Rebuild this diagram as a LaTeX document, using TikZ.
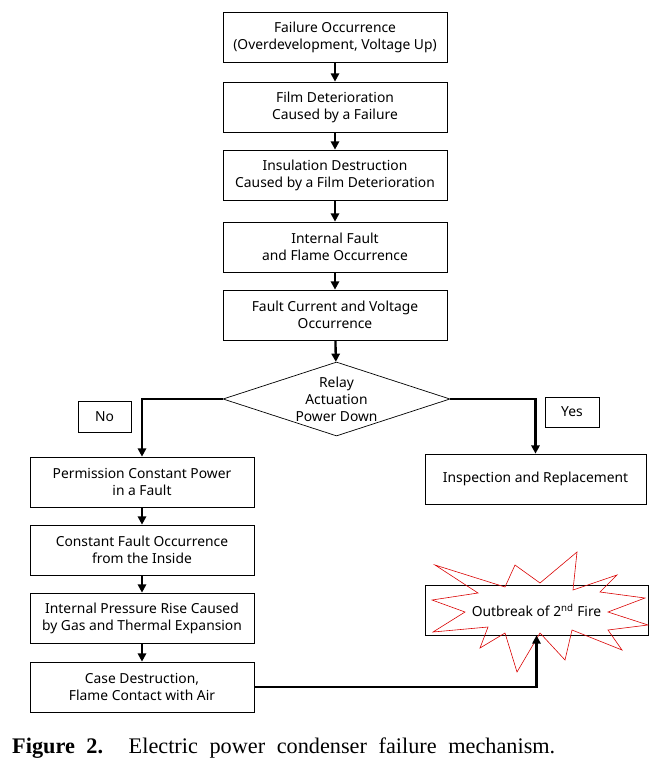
\documentclass[tikz,border=0pt]{standalone}
\usepackage{fontspec}
\setmainfont{Noto Sans}
\newfontfamily\capfont{Liberation Serif}
\usetikzlibrary{shapes.geometric,arrows.meta}
\begin{document}
\begin{tikzpicture}[x=0.03cm,y=-0.03cm,
  box/.style={draw,line width=0.6pt,minimum width=6.72cm,minimum height=1.5cm,align=center,inner sep=2pt,font=\fontsize{11.8}{14.5}\selectfont},
  tag/.style={draw,line width=0.6pt,align=center,inner sep=0pt,font=\fontsize{11.8}{14.5}\selectfont},
  arr/.style={line width=2pt,-{Triangle[length=7pt,width=7pt]}},
  lnk/.style={line width=2pt}]
\useasboundingbox (0,0) rectangle (669,765);
% main column
\node[box] (b1) at (335,37) {Failure Occurrence\\(Overdevelopment, Voltage Up)};
\node[box] (b2) at (335,107) {Film Deterioration\\Caused by a Failure};
\node[box] (b3) at (335,175) {Insulation Destruction\\Caused by a Film Deterioration};
\node[box] (b4) at (335,247) {Internal Fault\\and Flame Occurrence};
\node[box] (b5) at (335,315) {Fault Current and Voltage\\Occurrence};
\node[diamond,draw,line width=0.6pt,aspect=3,inner sep=0pt,minimum width=6.81cm,minimum height=2.22cm,align=center,font=\fontsize{11.8}{14.5}\selectfont] (d) at (336.5,399) {Relay\\Actuation\\Power Down};
% labels
\node[tag,minimum width=1.59cm,minimum height=0.93cm] (no) at (104.5,416.5) {No};
\node[tag,minimum width=1.62cm,minimum height=0.9cm] (yes) at (572,412) {Yes};
% left column
\node[box] (l1) at (142,482) {Permission Constant Power\\in a Fault};
\node[box] (l2) at (142,550) {Constant Fault Occurrence\\from the Inside};
\node[box] (l3) at (142,618) {Internal Pressure Rise Caused\\by Gas and Thermal Expansion};
\node[box] (l4) at (142,687) {Case Destruction,\\Flame Contact with Air};
% right column
\node[box,minimum width=6.63cm] (r1) at (535.5,479) {Inspection and Replacement};
\node[box,minimum width=6.69cm] (r2) at (536.5,610) {Outbreak of 2\textsuperscript{nd} Fire};
% starburst
\draw[red!85!black,line width=0.5pt] (435,565) -- (505,587) -- (515,565) -- (540,583) -- (577,552) -- (573,590) -- (617,575) -- (600,592) -- (645,598) -- (608,612) -- (648,625) -- (608,630) -- (622,650) -- (572,630) -- (565,660) -- (540,633) -- (517,672) -- (505,633) -- (480,648) -- (488,627) -- (433,632) -- (465,612) -- (432,600) -- (478,593) -- cycle;
% connectors
\draw[arr] (b1) -- (b2);
\draw[arr] (b2) -- (b3);
\draw[arr] (b3) -- (b4);
\draw[arr] (b4) -- (b5);
\draw[arr] (b5) -- (d);
\draw[arr] (d.west) -| (l1.north);
\draw[arr] (d.east) -| (r1.north);
\draw[arr] (l1) -- (l2);
\draw[arr] (l2) -- (l3);
\draw[arr] (l3) -- (l4);
\draw[arr] (l4.east) -| (r2.south);
% caption
\node[anchor=base west,inner sep=0pt,font=\capfont\fontsize{19}{22}\selectfont] (cap) at (12,753) {\makebox[16.29cm][s]{\textbf{Figure 2.} Electric power condenser failure mechanism.}};
\end{tikzpicture}
\end{document}
